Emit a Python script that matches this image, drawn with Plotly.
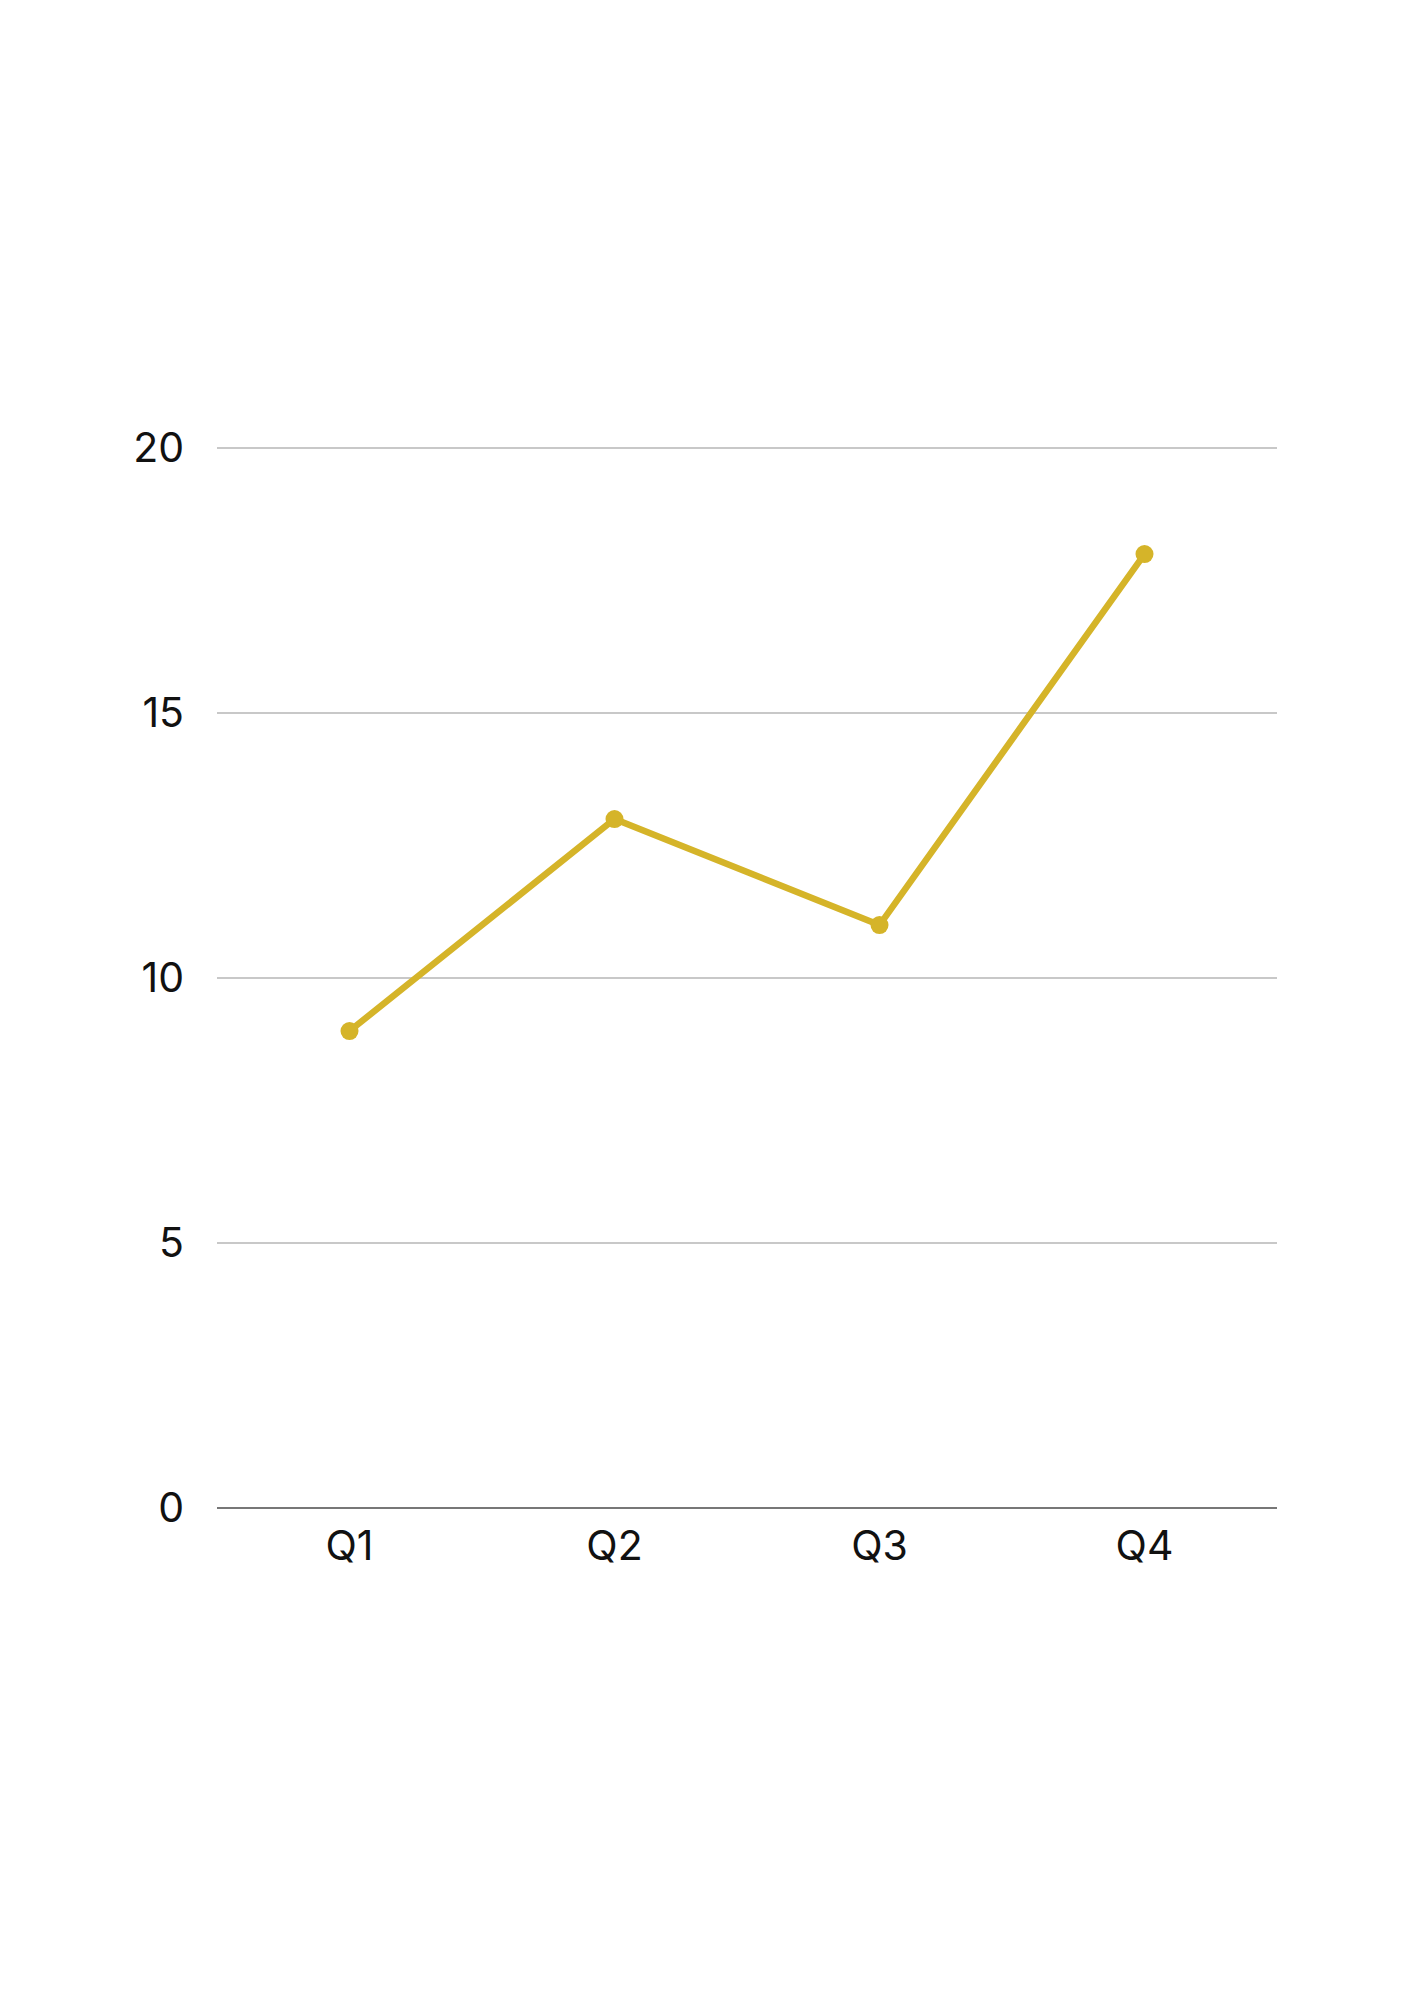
import plotly.graph_objects as go

categories = ["Q1", "Q2", "Q3", "Q4"]
values = [9, 13, 11, 18]
y_ticks = [0, 5, 10, 15, 20]

color = "#D5B429"

fig = go.Figure()
fig.add_trace(go.Scatter(
    x=categories, y=values, mode="lines+markers",
    line=dict(color=color, width=6.5),
    marker=dict(color=color, size=18),
    showlegend=False,
))

fig.update_layout(
    width=1414, height=2000,
    paper_bgcolor="white", plot_bgcolor="white",
    margin=dict(l=209, r=145, t=439, b=500, pad=0),
    font=dict(family="Inter, Noto Sans, sans-serif", size=41, color="#111111"),
    xaxis=dict(
        type="category", range=[-0.5, 3.5],
        showgrid=False, zeroline=False,
        showline=False, ticks="", ticklabelstandoff=10,
    ),
    yaxis=dict(
        range=[0, 20.02], tickvals=y_ticks,
        showgrid=True, gridcolor="#c8c8c8", gridwidth=2,
        zeroline=True, zerolinecolor="#777777", zerolinewidth=2,
        showline=False, ticks="", ticklabelstandoff=32,
    ),
)

fig.write_html("out.html")
